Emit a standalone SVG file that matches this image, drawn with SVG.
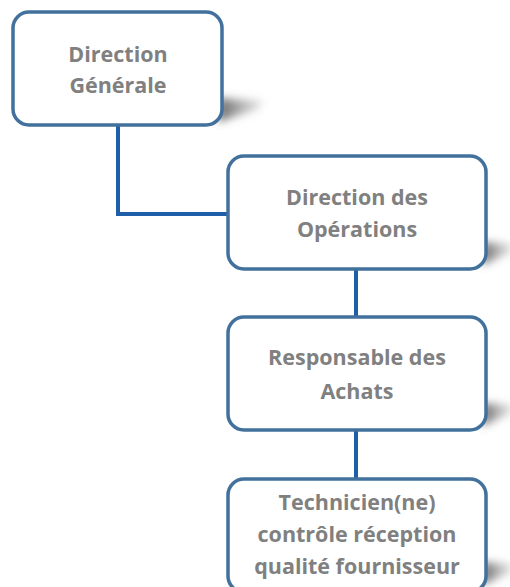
<svg xmlns="http://www.w3.org/2000/svg" width="510" height="587" viewBox="0 0 510 587">
<defs>
<filter id="blur" x="-50%" y="-50%" width="200%" height="200%"><feGaussianBlur stdDeviation="4"/></filter>
<linearGradient id="sh" x1="0" y1="0" x2="1" y2="0">
<stop offset="0" stop-color="#555" stop-opacity="0.9"/>
<stop offset="1" stop-color="#888" stop-opacity="0.2"/>
</linearGradient>
</defs>
<style>
.box{fill:#fff;stroke:#41719c;stroke-width:3.5}
.lbl{font-family:"Open Sans","Liberation Sans",sans-serif;font-weight:bold;font-size:21.5px;fill:#808080;text-anchor:middle}
.con{fill:none;stroke:#1f5ea8;stroke-width:4}
.shadow{fill:url(#sh);filter:url(#blur)}
</style>
<rect width="510" height="587" fill="#fff"/>
<g id="connectors">
<polyline class="con" points="118,125 118,214 228,214"/>
<line class="con" x1="356" y1="269" x2="356" y2="317"/>
<line class="con" x1="356" y1="430" x2="356" y2="479"/>
</g>
<g id="n1">
<polygon class="shadow" points="218,98 264,101 258,109 218,122"/>
<rect class="box" x="13" y="12" width="209" height="113" rx="16"/>
<text class="lbl" x="118" y="62">Direction</text>
<text class="lbl" x="118" y="93">Générale</text>
</g>
<g id="n2">
<polygon class="shadow" points="482,242 512,244 512,252 482,265"/>
<rect class="box" x="228" y="156" width="258" height="113" rx="16"/>
<text class="lbl" x="357" y="205">Direction des</text>
<text class="lbl" x="357" y="237">Opérations</text>
</g>
<g id="n3">
<polygon class="shadow" points="482,403 512,405 512,413 482,426"/>
<rect class="box" x="228" y="317" width="258" height="113" rx="16"/>
<text class="lbl" x="357" y="365">Responsable des</text>
<text class="lbl" x="357" y="399">Achats</text>
</g>
<g id="n4">
<polygon class="shadow" points="482,562 512,564 512,572 482,585"/>
<rect class="box" x="228" y="479" width="258" height="113" rx="16"/>
<text class="lbl" x="357" y="510">Technicien(ne)</text>
<text class="lbl" x="357" y="542">contrôle réception</text>
<text class="lbl" x="357" y="574">qualité fournisseur</text>
</g>
</svg>
